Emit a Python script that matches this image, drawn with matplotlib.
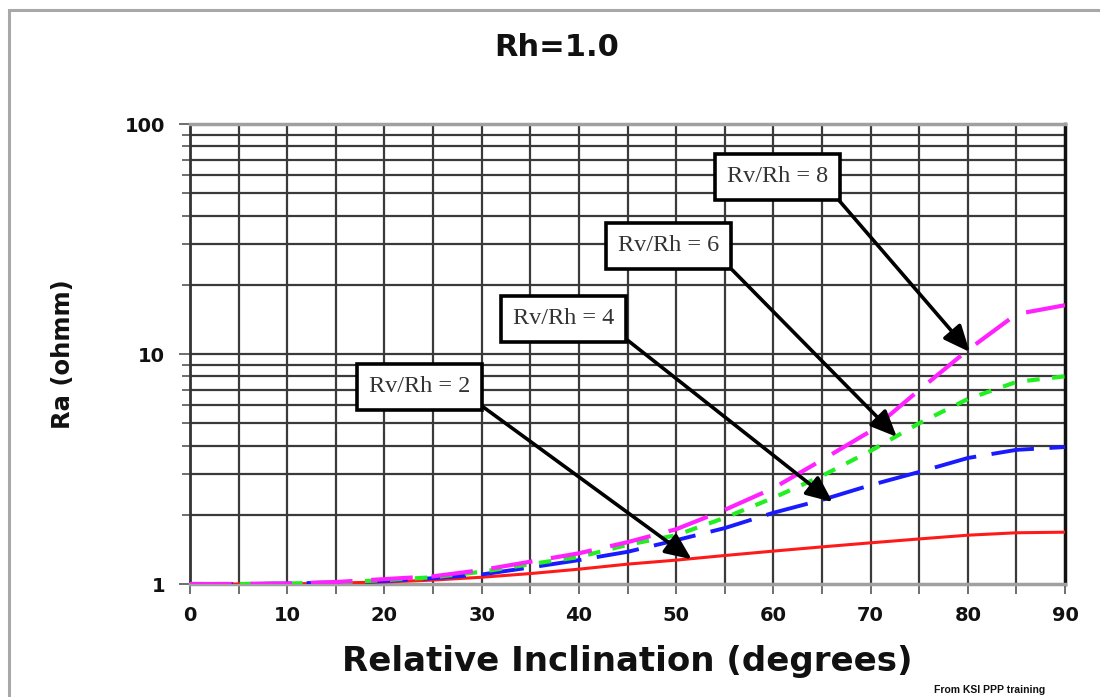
import matplotlib
matplotlib.use("Agg")
import matplotlib.pyplot as plt
from matplotlib.patches import Rectangle
from matplotlib.ticker import FixedLocator, NullFormatter, LogLocator

# ---- data ----
angles = [0, 5, 10, 15, 20, 25, 30, 35, 40, 45, 50, 55, 60, 65, 70, 75, 80, 85, 90]
ra_2 = [1.0, 1.0, 1.0, 1.01, 1.02, 1.04, 1.07, 1.11, 1.16, 1.22, 1.27, 1.33, 1.39, 1.45, 1.51, 1.57, 1.63, 1.67, 1.68]
ra_4 = [1.0, 1.0, 1.005, 1.015, 1.03, 1.06, 1.10, 1.18, 1.27, 1.38, 1.55, 1.75, 2.04, 2.32, 2.69, 3.07, 3.53, 3.83, 3.94]
ra_6 = [1.0, 1.0, 1.005, 1.015, 1.04, 1.07, 1.13, 1.22, 1.31, 1.48, 1.63, 1.94, 2.37, 2.95, 3.79, 5.0, 6.37, 7.56, 8.0]
ra_8 = [1.0, 1.0, 1.005, 1.02, 1.05, 1.08, 1.15, 1.25, 1.36, 1.52, 1.73, 2.1, 2.61, 3.46, 4.62, 6.97, 10.4, 14.9, 16.3]

labels = ["Rv/Rh = 2", "Rv/Rh = 4", "Rv/Rh = 6", "Rv/Rh = 8"]
label_pos = [(23.6, 7.19), (38.4, 14.2), (49.2, 29.5), (60.4, 58.9)]
arrow_tip = [(51.6, 1.28), (66.1, 2.27), (72.7, 4.36), (80.2, 10.2)]

x_ticks = [0, 10, 20, 30, 40, 50, 60, 70, 80, 90]
y_ticks = [1, 10, 100]

# ---- figure ----
fig = plt.figure(figsize=(11, 6.97), dpi=100)
fig.patch.set_facecolor("white")
fig.patches.append(Rectangle((9 / 1100, -0.1), 1.2, 1 - 10 / 697 + 0.1,
                             transform=fig.transFigure, fill=False,
                             edgecolor="#a8a8a8", lw=2.2, zorder=0))

ax = fig.add_axes([190 / 1100, 1 - 584 / 697, (1065 - 190) / 1100, (584 - 124) / 697])
ax.set_yscale("log")
ax.set_xlim(0, 90)
ax.set_ylim(1, 100)

# grid
grid_c = "#3a3a3a"
for xv in range(5, 90, 5):
    ax.axvline(xv, color=grid_c, lw=1.6, zorder=1)
for dec in (1, 10):
    for m in range(2, 11):
        ax.axhline(dec * m, color=grid_c, lw=1.6, zorder=1)

ax.plot(angles, ra_2, color="#ff1a1a", lw=2.2, zorder=3)
ax.plot(angles, ra_4, color="#1a1aff", lw=2.8, dashes=(11, 4), zorder=3)
ax.plot(angles, ra_6, color="#22ee22", lw=3.0, dashes=(3, 3), zorder=3)
ax.plot(angles, ra_8, color="#ff22ff", lw=3.0, dashes=(10, 4.5), zorder=3)

for lab, (tx, ty), (hx, hy) in zip(labels, label_pos, arrow_tip):
    ax.annotate(lab, xy=(hx, hy), xytext=(tx, ty), ha="center", va="center",
                fontsize=17.5, family="Liberation Serif", color="#333333",
                bbox=dict(boxstyle="square,pad=0.5", fc="white", ec="black", lw=2.6),
                arrowprops=dict(arrowstyle="-|>,head_length=0.8,head_width=0.35",
                                color="black", lw=2.6, relpos=(1.0, 0.0),
                                shrinkA=0, shrinkB=0, mutation_scale=20),
                zorder=5)

# spines
ax.spines["top"].set_color("#a0a0a0")
ax.spines["top"].set_linewidth(2.5)
ax.spines["bottom"].set_color("#a0a0a0")
ax.spines["bottom"].set_linewidth(2.5)
ax.spines["left"].set_color("#333333")
ax.spines["left"].set_linewidth(2)
ax.spines["right"].set_color("#111111")
ax.spines["right"].set_linewidth(2.5)

ax.xaxis.set_major_locator(FixedLocator(x_ticks))
ax.xaxis.set_minor_locator(FixedLocator([5, 15, 25, 35, 45, 55, 65, 75, 85]))
ax.yaxis.set_major_locator(FixedLocator(y_ticks))
ax.yaxis.set_minor_locator(LogLocator(base=10, subs=range(2, 10)))
ax.yaxis.set_minor_formatter(NullFormatter())
ax.set_xticklabels([str(v) for v in x_ticks])
ax.set_yticklabels([str(v) for v in y_ticks])
ax.tick_params(axis="both", which="both", direction="out", color="#555555", width=1.2)
ax.tick_params(axis="x", which="both", length=7, pad=9)
ax.tick_params(axis="y", which="major", length=8, pad=10)
ax.tick_params(axis="y", which="minor", length=6)
for t in ax.get_xticklabels() + ax.get_yticklabels():
    t.set_fontsize(14)
    t.set_fontweight("bold")
    t.set_family("DejaVu Sans")
    t.set_color("#111111")

ax.set_xlabel("Relative Inclination (degrees)", fontsize=24.5, fontweight="bold",
              family="DejaVu Sans", labelpad=14, color="#111111")
ax.set_ylabel("Ra (ohmm)", fontsize=17.5, fontweight="bold",
              family="DejaVu Sans", labelpad=36, color="#111111")
fig.text(557 / 1100, 1 - 48 / 697, "Rh=1.0", ha="center", va="center",
         fontsize=22, fontweight="bold", family="DejaVu Sans", color="#111111")
fig.text(990 / 1100, 0.003, "From KSI PPP training", ha="center", va="bottom",
         fontsize=7.5, fontweight="bold", family="Liberation Sans", color="#111111")

fig.savefig("out.png", dpi=100, facecolor="white")
